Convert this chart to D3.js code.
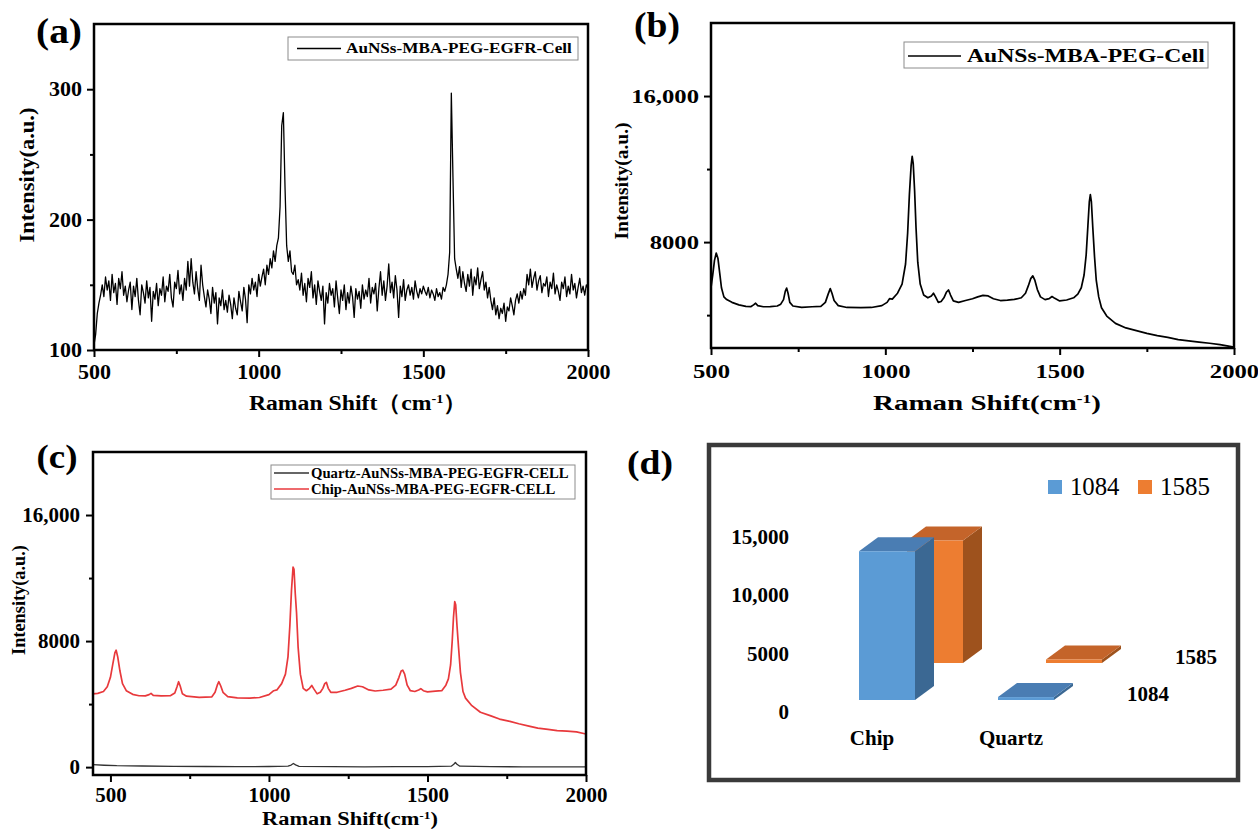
<!DOCTYPE html>
<html>
<head>
<meta charset="utf-8">
<script src="https://cdn.jsdelivr.net/npm/d3@7"></script>
<style>
  body { margin: 0; background: #fff; }
  svg { display: block; background: #fff; }
</style>
</head>
<body>
<svg id="fig" width="1258" height="832"></svg>
<script>
// ---------- data ----------
// (a) noisy spectrum, sampled every 5 cm-1 from 500 to 2000
const shiftGridA = d3.range(500, 2001, 5);
const intensityA = [
  104, 112, 128, 136, 142,
  150, 141, 156, 146, 153, 138, 158, 144, 151, 135, 155, 147, 160, 142, 149, 137,
  146, 152, 131, 149, 141, 155, 138, 127, 150, 144, 136, 153, 140, 148, 122, 145, 139, 151, 134, 147,
  142, 156, 137, 149, 145, 158, 140, 133, 152, 147, 161, 143, 150, 138, 155, 146, 168, 149, 170, 152,
  143, 160, 147, 138, 165, 150, 141, 133, 146, 139, 128, 148, 136, 144, 120, 140, 134, 146, 131, 138,
  129, 142, 135, 124, 140, 132, 127, 145, 137, 130, 148, 139, 121, 150, 143, 155, 146, 152, 141, 158,
  149, 156, 162, 150, 165, 158, 170, 163, 176, 168, 180, 186,
  210, 272, 282, 225, 180, 168, 176, 160,
  158, 165, 150, 154, 146, 159, 142, 151, 137, 155, 148, 160, 140, 150, 135, 153, 145, 138, 149, 120,
  144, 136, 151, 142, 147, 133, 153, 140, 128, 146, 138, 150, 131, 144, 136, 149, 141, 125, 147, 139,
  145, 132, 150, 139, 146, 141, 155, 136, 148, 143, 151, 130, 147, 160, 142, 153, 138, 149, 166, 144,
  152, 140, 157, 146, 125, 149, 141, 154, 138, 146, 150, 142, 148, 139, 153, 145, 140, 147, 143, 149,
  145, 142, 148, 140, 146, 143, 138, 147, 141, 144, 139, 148, 145, 150, 158,
  175, 297, 232, 170, 162,
  155, 164, 148, 160, 151, 145, 158, 149, 162, 142, 156, 150, 163, 147, 154, 160, 146, 152, 140, 148,
  138, 131, 140, 127, 134, 124, 132, 128, 136, 122, 133, 130, 140, 134, 127, 138, 143, 136, 145, 139,
  147, 142, 158, 150, 162, 148, 155, 160, 146, 153, 157, 144, 151, 149, 156, 141, 152, 147, 159, 143,
  150, 145, 138, 152, 147, 156, 141, 149, 143, 158, 146, 151, 140, 148, 155, 144, 149, 142, 150, 147
];

// (b) AuNSs-MBA-PEG-Cell, [shift, intensity]
const spectrumB = [
  [500, 5500], [505, 6200], [510, 7000], [515, 7400], [520, 7100], [525, 6300], [530, 5500], [537, 5000],
  [545, 4850], [560, 4700], [580, 4560], [600, 4480], [615, 4470], [622, 4560], [628, 4650], [634, 4520],
  [650, 4460], [670, 4470], [690, 4500], [700, 4600], [708, 4850], [713, 5300], [717, 5480], [721, 5200],
  [726, 4700], [735, 4500], [760, 4430], [790, 4460], [815, 4480], [828, 4700], [836, 5150], [842, 5450],
  [847, 5200], [853, 4800], [865, 4520], [890, 4420], [930, 4410], [960, 4420], [990, 4520], [1005, 4700],
  [1012, 4900], [1020, 4880], [1035, 5200], [1048, 5700], [1058, 6800], [1064, 8500], [1069, 10600],
  [1074, 12200], [1077, 12700], [1080, 12300], [1084, 10800], [1088, 8800], [1093, 6900], [1100, 5700],
  [1110, 5100], [1122, 4950], [1132, 5050], [1138, 5200], [1144, 5000], [1152, 4700], [1160, 4750],
  [1168, 4950], [1175, 5250], [1181, 5380], [1187, 5100], [1195, 4780], [1210, 4700], [1230, 4800],
  [1250, 4900], [1265, 5000], [1280, 5080], [1295, 5050], [1310, 4900], [1330, 4800], [1350, 4820],
  [1370, 4860], [1390, 4950], [1402, 5200], [1410, 5600], [1417, 6000], [1423, 6150], [1429, 5900],
  [1436, 5400], [1445, 5000], [1458, 4850], [1470, 4900], [1478, 5020], [1486, 4920], [1500, 4780],
  [1520, 4830], [1540, 4950], [1552, 5150], [1562, 5500], [1570, 6200], [1576, 7300], [1581, 8900],
  [1585, 10200], [1588, 10600], [1591, 10200], [1595, 8800], [1600, 7200], [1605, 5900], [1612, 5000],
  [1620, 4400], [1635, 3950], [1660, 3550], [1690, 3300], [1720, 3150], [1750, 3000], [1780, 2880],
  [1810, 2780], [1840, 2660], [1870, 2590], [1900, 2520], [1930, 2460], [1960, 2380], [1980, 2320],
  [2000, 2250]
];

// (c) chip and quartz substrates, [shift, intensity]
const spectrumChip = [
  [445, 4650], [460, 4680], [478, 4800], [490, 5100], [500, 5700], [508, 6600], [514, 7250], [518, 7420],
  [523, 7000], [530, 6100], [538, 5300], [550, 4850], [570, 4620], [590, 4530], [610, 4520], [622, 4600],
  [628, 4680], [635, 4550], [660, 4520], [690, 4540], [703, 4700], [710, 5100], [715, 5420], [720, 5150],
  [727, 4650], [740, 4500], [780, 4430], [820, 4460], [830, 4750], [837, 5200], [842, 5420], [848, 5150],
  [855, 4750], [870, 4480], [900, 4400], [940, 4380], [970, 4420], [1000, 4600], [1015, 4850], [1025, 4900],
  [1040, 5300], [1052, 5900], [1060, 7000], [1066, 9000], [1071, 11200], [1076, 12700], [1079, 12550],
  [1083, 11000], [1087, 9800], [1092, 7600], [1099, 5900], [1108, 5000], [1118, 4850], [1128, 5000],
  [1135, 5180], [1142, 4950], [1152, 4650], [1162, 4750], [1170, 5000], [1176, 5300], [1181, 5380],
  [1187, 5000], [1195, 4750], [1215, 4750], [1240, 4880], [1260, 5000], [1280, 5150], [1295, 5100],
  [1315, 4900], [1335, 4830], [1360, 4880], [1385, 4950], [1400, 5200], [1410, 5700], [1417, 6100],
  [1422, 6150], [1428, 5900], [1436, 5200], [1446, 4850], [1460, 4800], [1472, 4900], [1479, 4980],
  [1487, 4850], [1500, 4780], [1525, 4820], [1545, 4850], [1558, 5200], [1566, 5600], [1573, 6500],
  [1578, 8000], [1582, 9500], [1586, 10500], [1589, 10300], [1593, 9000], [1598, 7600], [1604, 6000],
  [1612, 4800], [1620, 4380], [1640, 3900], [1667, 3480], [1700, 3250], [1727, 3050], [1760, 2900],
  [1788, 2750], [1820, 2600], [1848, 2480], [1880, 2400], [1909, 2320], [1940, 2280], [1970, 2240],
  [2000, 2100]
];
const spectrumQuartz = [
  [445, 160], [480, 120], [520, 90], [600, 70], [700, 50], [800, 40], [900, 30], [1000, 40], [1060, 60],
  [1070, 130], [1077, 230], [1084, 140], [1095, 50], [1200, 30], [1300, 20], [1400, 30], [1500, 30],
  [1575, 60], [1583, 180], [1588, 290], [1593, 180], [1602, 60], [1700, 30], [1800, 20], [1900, 20],
  [2000, 20]
];

// (d) peak intensities
const barCats = ['Chip', 'Quartz'];
const barSeries = ['1084', '1585'];
const peak1084 = [12750, 250];
const peak1585 = [10500, 300];
const barTicks = [0, 5000, 10000, 15000];

const ramanTicks = [500, 1000, 1500, 2000];
const ramanMinor = [750, 1250, 1750];

// ---------- helpers ----------
const svg = d3.select('#fig');
const serif = '"Liberation Serif","Times New Roman",serif';
svg.attr('font-family', serif);

const fmt = (v) => Math.abs(v) >= 10000 ? d3.format(',')(v) : String(v);

// place text, then stretch it horizontally to the width measured in the picture
function fitText(parent, o, build) {
  const t = parent.append('text')
      .attr('font-size', o.size)
      .attr('font-weight', o.weight || 'bold')
      .attr('text-anchor', o.anchor || 'middle')
      .attr('fill', o.fill || '#000');
  build(t);
  const w = t.node().getBBox().width;
  const sx = o.width ? o.width / w : (o.sx || 1);
  let tf = `translate(${o.x},${o.y})`;
  if (o.rotate) tf += ` rotate(${o.rotate})`;
  t.attr('transform', tf + ` scale(${sx},1)`);
  return t;
}
const plain = (str) => (t) => t.text(str);
const ramanTitle = (open, close) => (t) => {
  t.append('tspan').text('Raman Shift' + open + 'cm');
  t.append('tspan').attr('font-size', '0.6em').attr('dy', '-0.55em').text('-1');
  t.append('tspan').attr('dy', '0.33em').text(close);
};

function drawSpectrum(cfg) {
  const g = svg.append('g');
  const x = d3.scaleLinear().domain(cfg.xDomain).range([cfg.left, cfg.right]);
  const y = d3.scaleLinear().domain(cfg.yDomain).range([cfg.bottom, cfg.top]);

  g.append('clipPath').attr('id', 'clip-' + cfg.id)
    .append('rect')
      .attr('x', cfg.left).attr('y', cfg.top)
      .attr('width', cfg.right - cfg.left).attr('height', cfg.bottom - cfg.top);

  const line = d3.line().x(d => x(d[0])).y(d => y(d[1]));
  cfg.series.forEach(s => {
    g.append('path')
        .datum(s.data)
        .attr('clip-path', `url(#clip-${cfg.id})`)
        .attr('fill', 'none')
        .attr('stroke', s.color)
        .attr('stroke-width', s.width)
        .attr('stroke-linejoin', 'round')
        .attr('d', line);
  });

  // minor ticks
  g.append('g').attr('transform', `translate(0,${cfg.bottom})`)
      .call(d3.axisBottom(x).tickValues(cfg.xMinor).tickSize(4).tickFormat(''))
      .call(a => a.select('.domain').remove());
  g.append('g').attr('transform', `translate(${cfg.left},0)`)
      .call(d3.axisLeft(y).tickValues(cfg.yMinor).tickSize(4).tickFormat(''))
      .call(a => a.select('.domain').remove());

  const xAxis = g.append('g').attr('transform', `translate(0,${cfg.bottom})`)
      .call(d3.axisBottom(x).tickValues(cfg.xTicks).tickSize(7).tickPadding(cfg.xPad).tickFormat(fmt));
  const yAxis = g.append('g').attr('transform', `translate(${cfg.left},0)`)
      .call(d3.axisLeft(y).tickValues(cfg.yTicks).tickSize(7).tickPadding(cfg.yPad).tickFormat(fmt));

  [xAxis, yAxis].forEach(a => {
    a.select('.domain').remove();
    a.attr('font-family', serif).attr('font-size', cfg.tickFont).attr('font-weight', 'bold');
    a.selectAll('text').attr('fill', '#000');
  });
  g.selectAll('.tick line').attr('stroke', '#000').attr('stroke-width', 2);
  xAxis.selectAll('text').attr('transform', `scale(${cfg.sx},1)`);
  yAxis.selectAll('text')
      .attr('x', function () { return +this.getAttribute('x') / cfg.sx; })
      .attr('transform', `scale(${cfg.sx},1)`);

  g.append('rect')
      .attr('x', cfg.left).attr('y', cfg.top)
      .attr('width', cfg.right - cfg.left).attr('height', cfg.bottom - cfg.top)
      .attr('fill', 'none').attr('stroke', '#000').attr('stroke-width', 2.5);

  // legend
  const L = cfg.legend;
  g.append('rect')
      .attr('x', L.box[0]).attr('y', L.box[1]).attr('width', L.box[2]).attr('height', L.box[3])
      .attr('fill', '#fff').attr('stroke', '#8c8c8c').attr('stroke-width', 1);
  let sxLegend = null;
  L.rows.forEach((r, i) => {
    g.append('line')
        .attr('x1', L.lineX[0]).attr('x2', L.lineX[1])
        .attr('y1', r.y).attr('y2', r.y)
        .attr('stroke', r.color).attr('stroke-width', 1.3);
    const t = fitText(g, {x: L.textX, y: r.y + L.size * 0.33, size: L.size, anchor: 'start',
      width: i === 0 ? L.width : null, sx: sxLegend}, plain(r.label));
    if (i === 0) sxLegend = L.width / t.node().getBBox().width;
  });

  // titles
  fitText(g, {x: cfg.yTitle.x, y: cfg.yTitle.y, size: cfg.yTitle.size, width: cfg.yTitle.len, rotate: -90},
      plain('Intensity(a.u.)'));
  fitText(g, {x: cfg.xTitle.x, y: cfg.xTitle.y, size: cfg.xTitle.size, width: cfg.xTitle.width},
      ramanTitle(cfg.xTitle.open, cfg.xTitle.close));
  fitText(g, {x: cfg.tag.x, y: cfg.tag.y, size: cfg.tag.size, width: cfg.tag.width}, plain(cfg.tag.text));
}

// ---------- panels a, b, c ----------
drawSpectrum({
  id: 'a', left: 94, right: 588, top: 24, bottom: 350,
  xDomain: [500, 2000], yDomain: [100, 350],
  xTicks: ramanTicks, xMinor: ramanMinor, yTicks: [100, 200, 300], yMinor: [150, 250],
  tickFont: 20, sx: 1.1, xPad: 8, yPad: 5,
  series: [{data: shiftGridA.map((s, i) => [s, intensityA[i]]), color: '#000', width: 1.3}],
  legend: {box: [288, 37, 290, 23], lineX: [297, 341], textX: 346, width: 226, size: 15,
    rows: [{label: 'AuNSs-MBA-PEG-EGFR-Cell', color: '#000', y: 48.5}]},
  yTitle: {x: 34, y: 175, size: 20, len: 135},
  xTitle: {x: 358, y: 410, size: 22, width: 218, open: '（', close: '）'},
  tag: {x: 59, y: 43, size: 36, width: 46, text: '(a)'}
});

drawSpectrum({
  id: 'b', left: 711, right: 1234, top: 23, bottom: 348,
  xDomain: [500, 2000], yDomain: [2200, 20000],
  xTicks: ramanTicks, xMinor: ramanMinor, yTicks: [8000, 16000], yMinor: [4000, 12000],
  tickFont: 19, sx: 1.3, xPad: 10, yPad: 5,
  series: [{data: spectrumB, color: '#000', width: 1.7}],
  legend: {box: [904, 42, 304, 26], lineX: [908, 961], textX: 967, width: 238, size: 19,
    rows: [{label: 'AuNSs-MBA-PEG-Cell', color: '#000', y: 56}]},
  yTitle: {x: 628, y: 181, size: 19, len: 117},
  xTitle: {x: 987, y: 410, size: 22, width: 228, open: '(', close: ')'},
  tag: {x: 657, y: 37, size: 36, width: 46, text: '(b)'}
});

drawSpectrum({
  id: 'c', left: 93, right: 586, top: 452, bottom: 775,
  xDomain: [445, 2000], yDomain: [-500, 20000],
  xTicks: ramanTicks, xMinor: ramanMinor, yTicks: [0, 8000, 16000], yMinor: [4000, 12000],
  tickFont: 20, sx: 1.05, xPad: 6, yPad: 6,
  series: [
    {data: spectrumQuartz, color: '#333', width: 1.3},
    {data: spectrumChip, color: '#e8393c', width: 1.7}
  ],
  legend: {box: [271, 465, 304, 34], lineX: [274, 309], textX: 311, width: 258, size: 15,
    rows: [
      {label: 'Quartz-AuNSs-MBA-PEG-EGFR-CELL', color: '#333', y: 473},
      {label: 'Chip-AuNSs-MBA-PEG-EGFR-CELL', color: '#e8393c', y: 489}
    ]},
  yTitle: {x: 25, y: 600, size: 18, len: 110},
  xTitle: {x: 350, y: 825, size: 19, width: 176, open: '(', close: ')'},
  tag: {x: 57, y: 468, size: 33, width: 41, text: '(c)'}
});

// ---------- panel d: 3D columns ----------
function drawBars3D() {
  const g = svg.append('g');
  const catX = d3.scalePoint().domain(barCats).range([859, 998]);
  const depth = d3.scalePoint().domain(barSeries).range([0, 1]);
  const hScale = d3.scaleLinear().domain([0, 15000]).range([0, 175]);
  const yLabel = d3.scaleLinear().domain([0, 15000]).range([712, 537]);
  const base = 700, barW = 56, ddx = 19, ddy = -14, stepX = 48, stepY = -37;
  const colors = {
    '1084': {front: '#5b9bd5', side: '#3b6893', top: '#4a7db3'},
    '1585': {front: '#ed7d31', side: '#9e521d', top: '#c4642a'}
  };
  const values = {'1084': peak1084, '1585': peak1585};

  g.append('rect')
      .attr('x', 709).attr('y', 445).attr('width', 529).attr('height', 335)
      .attr('fill', '#fff').attr('stroke', '#3a3a3a').attr('stroke-width', 4.5);

  // back series first
  barSeries.slice().reverse().forEach(s => {
    const c = colors[s];
    barCats.forEach((cat, i) => {
      const X = catX(cat) + depth(s) * stepX;
      const B = base + depth(s) * stepY;
      const H = hScale(values[s][i]);
      const T = B - H;
      const bar = g.append('g');
      bar.append('polygon')
          .attr('points', [[X + barW, B], [X + barW + ddx, B + ddy], [X + barW + ddx, T + ddy], [X + barW, T]].join(' '))
          .attr('fill', c.side);
      bar.append('polygon')
          .attr('points', [[X, T], [X + ddx, T + ddy], [X + barW + ddx, T + ddy], [X + barW, T]].join(' '))
          .attr('fill', c.top);
      bar.append('rect')
          .attr('x', X).attr('y', T).attr('width', barW).attr('height', Math.max(H, 2))
          .attr('fill', c.front);
    });
  });

  barTicks.forEach(v => {
    fitText(g, {x: 789, y: yLabel(v) + 7, size: 21, anchor: 'end'}, plain(fmt(v)));
  });
  barCats.forEach(cat => {
    fitText(g, {x: catX(cat) + 13, y: 745, size: 21}, plain(cat));
  });
  barSeries.forEach(s => {
    fitText(g, {x: 1148 + depth(s) * stepX, y: 701 + depth(s) * stepY, size: 21}, plain(s));
  });

  // legend
  const legX = d3.scalePoint().domain(barSeries).range([1048, 1138]);
  barSeries.forEach(s => {
    g.append('rect')
        .attr('x', legX(s)).attr('y', 480).attr('width', 14).attr('height', 14)
        .attr('fill', colors[s].front);
    fitText(g, {x: legX(s) + 22, y: 495, size: 25, anchor: 'start', weight: 'normal', width: 50}, plain(s));
  });

  fitText(g, {x: 650, y: 474, size: 34, width: 46}, plain('(d)'));
}
drawBars3D();
</script>
</body>
</html>
